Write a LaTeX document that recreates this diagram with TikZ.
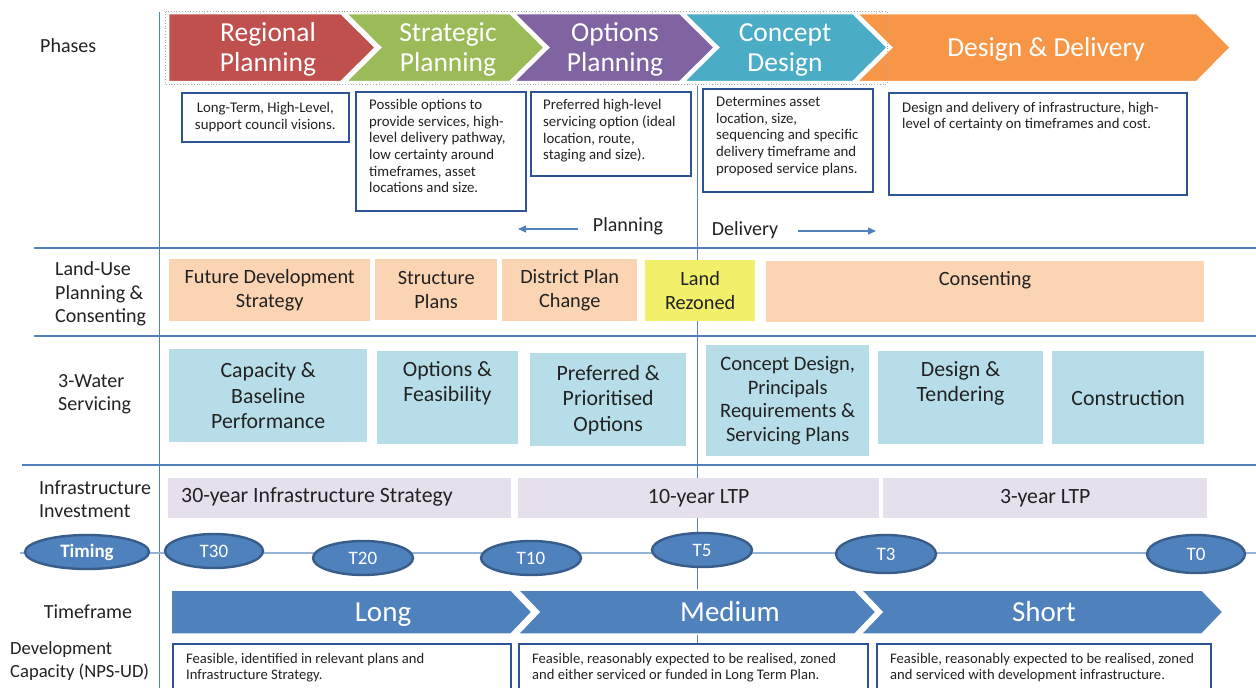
\documentclass[tikz,border=0pt]{standalone}
\usepackage{fontspec}
\setmainfont{Carlito}
\usetikzlibrary{arrows.meta,shapes.geometric}
\definecolor{ink}{HTML}{222222}
\definecolor{cRed}{HTML}{C0504D}
\definecolor{cGreen}{HTML}{9BBB59}
\definecolor{cPurple}{HTML}{8064A2}
\definecolor{cTeal}{HTML}{4BACC6}
\definecolor{cOrange}{HTML}{F79646}
\definecolor{boxblue}{HTML}{2F5496}
\definecolor{peach}{HTML}{FBD4B4}
\definecolor{lemon}{HTML}{F2EF6A}
\definecolor{aqua}{HTML}{B7DEE8}
\definecolor{lilac}{HTML}{E5E0EC}
\definecolor{midblue}{HTML}{4F81BD}
\definecolor{deepblue}{HTML}{385D8A}
\definecolor{paleblue}{HTML}{95B3D7}
\begin{document}
\begin{tikzpicture}[x=1pt,y=-1pt,
  lbl/.style={font=\fontsize{20}{23.5}\selectfont, text=ink, align=left, inner sep=0},
  chevtxt/.style={font=\fontsize{27.5}{30}\selectfont, text=white, align=center, inner sep=0},
  chevshape/.style={draw=white, line width=2.5, line join=miter},
  descbox/.style={draw=boxblue, line width=1.6, fill=white, inner sep=0, anchor=north west},
  desc/.style={font=\fontsize{14.8}{16.7}\selectfont, text=ink, align=left, inner sep=0},
  captext/.style={font=\fontsize{14.6}{16}\selectfont, text=ink, align=left, inner sep=0, anchor=west},
  landbox/.style={fill=peach, inner sep=0, anchor=north west, font=\fontsize{20.3}{24}\selectfont, align=center, text=ink},
  waterbox/.style={fill=aqua, inner sep=0, anchor=north west, font=\fontsize{21.8}{25.5}\selectfont, align=center, text=ink},
  watertext/.style={font=\fontsize{21.8}{25}\selectfont, text=ink, align=center, inner sep=0},
  investbox/.style={fill=lilac, inner sep=0, anchor=north west, font=\fontsize{21.8}{24}\selectfont, align=center, text=ink},
  tick/.style={ellipse, draw=deepblue, line width=2.4, fill=midblue, inner sep=0, text=white, font=\fontsize{19}{22}\selectfont},
  gridline/.style={draw=midblue, line width=1.4},
  flowarrow/.style={draw=midblue, line width=1.2, -{Triangle[length=8pt,width=7pt]}},
  framechev/.style={fill=midblue, draw=white, line width=1.5, line join=miter},
  frametxt/.style={font=\fontsize{29}{32}\selectfont, text=white, inner sep=0, anchor=base}
]
\useasboundingbox (0,0) rectangle (1256,688);
\clip (0,0) rectangle (1256,688);

% ---- grid lines ----
\draw[draw=midblue, line width=1] (159,12) -- (159,688);
\draw[draw=midblue, line width=1] (697,86) -- (697,643);
\draw[gridline] (34,248) -- (1256,248);
\draw[gridline] (34,336) -- (1256,336);
\draw[gridline] (22,465) -- (1256,465);
\draw[draw=paleblue, line width=2] (20,553) -- (1256,553);

% ---- phase chevrons ----
\fill[cOrange, chevshape] (856,13) -- (1197,13) -- (1231,47.5) -- (1197,82) -- (856,82) -- (891,47.5) -- cycle;
\fill[cTeal, chevshape] (683,13) -- (853,13) -- (888,47.5) -- (853,82) -- (683,82) -- (718,47.5) -- cycle;
\fill[cPurple, chevshape] (513,13) -- (680,13) -- (715,47.5) -- (680,82) -- (513,82) -- (548,47.5) -- cycle;
\fill[cGreen, chevshape] (345,13) -- (510,13) -- (545,47.5) -- (510,82) -- (345,82) -- (380,47.5) -- cycle;
\fill[cRed, chevshape] (168,13) -- (341,13) -- (376,47.5) -- (341,82) -- (168,82) -- cycle;
\draw[gray!70, line width=0.8, dotted] (165.5,11.5) rectangle (887,84);

\node[chevtxt] (regional) at (268,49.5) {Regional\\Planning};
\node[chevtxt] (strategic) at (448,49.5) {Strategic\\Planning};
\node[chevtxt] (options) at (615,49.5) {Options\\Planning};
\node[chevtxt] (concept) at (785,49.5) {Concept\\Design};
\node[chevtxt] (delivery) at (1046,49.5) {Design \& Delivery};

% ---- phase descriptions ----
\node[descbox, minimum width=167, minimum height=49, desc, align=center] (d1) at (181,92) {Long-Term, High-Level,\\support council visions.};
\node[descbox, minimum width=170, minimum height=119] (d2) at (355,91) {};
\node[desc, anchor=west] (d2t) at (369,146) {Possible options to\\provide services, high-\\level delivery pathway,\\low certainty around\\timeframes, asset\\locations and size.};
\node[descbox, minimum width=160, minimum height=84] (d3) at (530,91) {};
\node[desc, anchor=west] (d3t) at (543,131) {Preferred high-level\\servicing option (ideal\\location, route,\\staging and size).};
\node[descbox, minimum width=170, minimum height=103] (d4) at (702,88) {};
\node[desc, anchor=west] (d4t) at (716,136) {Determines asset\\location, size,\\sequencing and specific\\delivery timeframe and\\proposed service plans.};
\node[descbox, minimum width=298, minimum height=102] (d5) at (888,92) {};
\node[desc, anchor=west] (d5t) at (902,116.5) {Design and delivery of infrastructure, high-\\level of certainty on timeframes and cost.};

% ---- planning / delivery ----
\node[lbl] (planning) at (628,226) {Planning};
\node[lbl] (deliv) at (745,230) {Delivery};
\coordinate (planA) at (578,229);
\coordinate (planB) at (518,229);
\coordinate (delA) at (798,231);
\coordinate (delB) at (876,231);
\draw[flowarrow] (planA) -- (planB);
\draw[flowarrow] (delA) -- (delB);

% ---- row labels ----
\node[lbl, anchor=west] (phases) at (40,46) {Phases};
\node[lbl, anchor=west] (landuse) at (55,294) {Land-Use\\Planning \&\\Consenting};
\node[lbl, anchor=west] (water) at (58,394) {3-Water\\Servicing};
\node[lbl, anchor=west] (invest) at (39,499) {Infrastructure\\Investment};
\node[lbl] (timeframe) at (88,612) {Timeframe};
\node[lbl, font=\fontsize{18.6}{23}\selectfont, anchor=west] (capacity) at (10,661) {Development\\Capacity (NPS-UD)};

% ---- land-use row ----
\node[landbox, minimum width=201, minimum height=62] (fds) at (169,259) {Future Development\\Strategy};
\node[landbox, minimum width=122, minimum height=61] (struct) at (375,259) {Structure\\Plans};
\node[landbox, minimum width=135, minimum height=62] (dpc) at (502,259) {District Plan\\Change};
\node[landbox, fill=lemon, minimum width=110, minimum height=61] (rezone) at (645,260) {Land\\Rezoned};
\node[landbox, minimum width=438, minimum height=61] (consent) at (766,261) {};
\node[font=\fontsize{20.3}{24}\selectfont, text=ink, inner sep=0] (consentt) at (985,280) {Consenting};

% ---- 3-water row ----
\node[waterbox, minimum width=198, minimum height=93] (cap) at (169,349) {Capacity \&\\Baseline\\Performance};
\node[waterbox, minimum width=141, minimum height=93] (opt) at (377,351) {};
\node[watertext] (optt) at (447.5,383) {Options \&\\Feasibility};
\node[waterbox, minimum width=156, minimum height=93] (pref) at (530,353) {Preferred \&\\Prioritised\\Options};
\node[waterbox, font=\fontsize{20.5}{23.5}\selectfont, minimum width=163, minimum height=111] (cdes) at (706,345) {Concept Design,\\Principals\\Requirements \&\\Servicing Plans};
\node[waterbox, minimum width=165, minimum height=93] (tender) at (878,351) {};
\node[watertext] (tendert) at (960.5,383) {Design \&\\Tendering};
\node[waterbox, minimum width=152, minimum height=93] (constr) at (1052,351) {Construction};

% ---- investment row ----
\node[investbox, minimum width=343, minimum height=40] (ltp30) at (168,478) {};
\node[font=\fontsize{21.8}{24}\selectfont, text=ink, inner sep=0, anchor=west] (ltp30t) at (181,497) {30-year Infrastructure Strategy};
\node[investbox, minimum width=361, minimum height=40] (ltp10) at (518,478) {10-year LTP};
\node[investbox, minimum width=324, minimum height=40] (ltp3) at (883,478) {3-year LTP};

% ---- timing ----
\node[tick, font=\bfseries\fontsize{19}{22}\selectfont, minimum width=124, minimum height=34] (timing) at (87,552) {Timing};
\node[tick, minimum width=98, minimum height=34] (t30) at (214,551) {T30};
\node[tick, minimum width=100, minimum height=34] (t20) at (363,558) {T20};
\node[tick, minimum width=100, minimum height=34] (t10) at (531,558) {T10};
\node[tick, minimum width=100, minimum height=34] (t5) at (702,550) {T5};
\node[tick, minimum width=100, minimum height=38] (t3) at (886,554) {T3};
\node[tick, minimum width=98, minimum height=38] (t0) at (1196,554) {T0};

% ---- timeframe chevrons ----
\fill[framechev] (861,590) -- (1202,590) -- (1223,612) -- (1202,634) -- (861,634) -- (882,612) -- cycle;
\fill[framechev] (518,590) -- (855,590) -- (876,612) -- (855,634) -- (518,634) -- (539,612) -- cycle;
\fill[framechev] (171,590) -- (511,590) -- (532,612) -- (511,634) -- (171,634) -- cycle;
\node[frametxt] (long) at (383,621) {Long};
\node[frametxt] (medium) at (730,621) {Medium};
\node[frametxt] (short) at (1044,621) {Short};

% ---- development capacity ----
\node[descbox, minimum width=338, minimum height=60] (c1) at (172,643) {};
\node[captext] (c1t) at (186,668) {Feasible, identified in relevant plans and\\Infrastructure Strategy.};
\node[descbox, minimum width=349, minimum height=60] (c2) at (518,643) {};
\node[captext] (c2t) at (532,668) {Feasible, reasonably expected to be realised, zoned\\and either serviced or funded in Long Term Plan.};
\node[descbox, minimum width=334, minimum height=60] (c3) at (876,643) {};
\node[captext] (c3t) at (890,668) {Feasible, reasonably expected to be realised, zoned\\and serviced with development infrastructure.};
\end{tikzpicture}
\end{document}
